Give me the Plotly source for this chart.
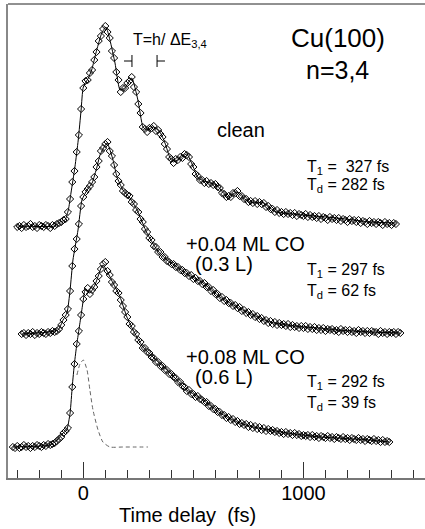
import plotly.graph_objects as go

# ---------------- data ----------------
# measured points, 10 fs delay grids (fs)
t_clean = list(range(-300, 1421, 10))
t_co04 = list(range(-280, 1441, 10))
t_co08 = list(range(-320, 1391, 10))

# clean Cu(100) (arb. units, offset as in the figure); one row per 100 fs
y_clean = [
    251, 252, 250, 253, 251, 252, 254, 251, 252, 250,   # -300
    253, 252, 251, 253, 252, 250, 253, 252, 254, 255,   # -200
    256, 258, 259, 266, 279, 296, 307, 326, 343, 369,   # -100
    390, 397, 398, 405, 408, 418, 426, 437, 442, 449,   # 0
    452, 446, 440, 427, 420, 406, 398, 386, 390, 390,   # 100
    395, 397, 401, 391, 386, 374, 365, 351, 349, 346,   # 200
    350, 350, 352, 347, 348, 344, 341, 334, 329, 321,   # 300
    319, 315, 319, 318, 321, 320, 324, 323, 321, 314,   # 400
    311, 304, 302, 298, 298, 295, 297, 294, 295, 293,   # 500
    294, 291, 290, 285, 284, 281, 282, 281, 285, 285,   # 600
    287, 282, 282, 279, 279, 276, 277, 275, 277, 274,   # 700
    276, 274, 275, 271, 272, 269, 269, 266, 268, 265,   # 800
    266, 264, 266, 264, 265, 263, 265, 262, 264, 263,   # 900
    262, 264, 261, 263, 261, 262, 260, 262, 259, 261,   # 1000
    260, 258, 261, 259, 260, 258, 260, 257, 259, 258,   # 1100
    256, 259, 257, 258, 256, 258, 255, 257, 256, 254,   # 1200
    257, 255, 256, 254, 256, 255, 253, 256, 254, 255,   # 1300
    253, 255, 254]                                      # 1400

# +0.04 ML CO
y_co04 = [
    144, 145, 143, 145, 144, 146, 143, 145,             # -280
    144, 146, 145, 144, 146, 145, 147, 146, 147, 149,   # -200
    153, 158, 163, 169, 187, 212, 229, 239, 254, 272,   # -100
    281, 286, 289, 292, 296, 301, 311, 317, 327, 330,   # 0
    334, 336, 327, 322, 313, 304, 297, 293, 287, 285,   # 100
    283, 282, 276, 274, 268, 266, 259, 256, 249, 246,   # 200
    240, 238, 232, 231, 226, 226, 221, 221, 217, 216,   # 300
    214, 214, 211, 211, 208, 208, 205, 205, 202, 203,   # 400
    199, 200, 197, 197, 194, 195, 191, 191, 187, 188,   # 500
    184, 184, 180, 181, 177, 178, 175, 175, 172, 173,   # 600
    170, 171, 167, 168, 165, 166, 163, 164, 161, 162,   # 700
    159, 160, 157, 158, 155, 157, 154, 156, 153, 155,   # 800
    153, 154, 152, 154, 151, 153, 151, 152, 150, 152,   # 900
    150, 152, 149, 151, 149, 151, 148, 150, 148, 150,   # 1000
    147, 149, 148, 149, 147, 148, 146, 149, 147, 148,   # 1100
    146, 148, 146, 147, 145, 148, 146, 147, 145, 147,   # 1200
    145, 147, 146, 146, 144, 147, 145, 146, 144, 146,   # 1300
    145, 146, 144, 146, 145]                            # 1400

# +0.08 ML CO
y_co08 = [
    31, 30,                                             # -320
    32, 30, 31, 33, 31, 32, 30, 32, 31, 33,             # -300
    32, 31, 33, 32, 34, 33, 34, 35, 37, 39,             # -200
    41, 45, 47, 50, 65, 91, 114, 134, 147, 163,         # -100
    179, 186, 190, 184, 188, 191, 197, 202, 209, 214,   # 0
    216, 207, 203, 196, 193, 187, 185, 178, 172, 166,   # 100
    161, 154, 152, 146, 144, 138, 136, 130, 130, 126,   # 200
    125, 121, 120, 116, 116, 112, 112, 108, 108, 104,   # 300
    104, 101, 100, 96, 96, 92, 91, 87, 88, 84,          # 400
    84, 81, 82, 79, 78, 76, 76, 72, 72, 69,             # 500
    69, 66, 66, 63, 63, 60, 61, 58, 59, 56,             # 600
    57, 54, 55, 53, 54, 51, 53, 50, 52, 49,             # 700
    51, 48, 50, 47, 49, 47, 48, 46, 47, 45,             # 800
    46, 44, 46, 44, 45, 43, 45, 43, 44, 42,             # 900
    43, 42, 43, 41, 43, 41, 42, 40, 42, 41,             # 1000
    40, 42, 40, 41, 39, 41, 40, 39, 41, 39,             # 1100
    40, 38, 40, 39, 38, 40, 38, 39, 37, 39,             # 1200
    38, 37, 39, 37, 38, 36, 38, 36, 37, 36]             # 1300

# fitted curves (solid lines)
tf_clean = [-300, -129, -106, -83, -68, -56, -38, -23, -10, 0, 23, 38, 61, 84, 103, 121,
            144, 167, 189, 220, 248, 271, 288, 318, 348, 371, 394, 409, 447, 470, 492,
            522, 560, 606, 636, 658, 697, 727, 757, 817, 848, 878, 998, 1152, 1302, 1420]
yf_clean = [252, 252, 256, 258, 268, 285, 311, 338, 368, 391, 400, 408, 428, 445, 451, 438,
            415, 388, 390, 400, 378, 351, 348, 351, 346, 335, 320, 316, 321, 324, 315,
            300, 296, 293, 285, 281, 286, 280, 276, 275, 270, 266, 263, 260, 256, 255]
tf_co04 = [-280, -115, -92, -74, -60, -47, -24, -6, 17, 40, 62, 76, 108, 135, 153, 180,
           212, 244, 289, 335, 380, 426, 471, 544, 621, 698, 771, 848, 925, 998, 1075,
           1152, 1225, 1302, 1440]
yf_co04 = [144, 148, 158, 165, 188, 218, 248, 278, 288, 295, 311, 323, 335, 318, 301, 288,
           280, 268, 245, 228, 218, 211, 204, 195, 181, 171, 163, 156, 153, 151, 150,
           148, 147, 146, 145]
tf_co08 = [-320, -151, -119, -92, -75, -60, -50, -40, -30, -20, -10, 0, 8, 30, 53, 89,
           135, 167, 198, 226, 271, 394, 471, 544, 621, 698, 771, 848, 925, 998, 1075,
           1152, 1225, 1302, 1390]
yf_co08 = [31, 33, 38, 45, 48, 65, 92, 115, 133, 148, 163, 178, 188, 185, 193, 213,
           195, 181, 161, 148, 131, 105, 88, 78, 65, 56, 51, 48, 45, 43, 41,
           40, 39, 38, 36]

# pump-probe cross correlation (dashed)
t_cc = [-29, -15, 0, 17, 30, 44, 67, 89, 121, 180, 240, 294]
y_cc = [103, 114, 118, 108, 88, 68, 48, 36, 31, 31, 31, 31]

assert len(t_clean) == len(y_clean), (len(t_clean), len(y_clean))
assert len(t_co04) == len(y_co04), (len(t_co04), len(y_co04))
assert len(t_co08) == len(y_co08), (len(t_co08), len(y_co08))

x_tick_vals = [0, 1000]
x_tick_text = ["0", "1000"]

FONT = "Liberation Sans, Arial, Helvetica, sans-serif"

fig = go.Figure()

for t, y in [(t_clean, y_clean), (t_co04, y_co04), (t_co08, y_co08)]:
    fig.add_trace(go.Scatter(
        x=t, y=y, mode="markers",
        marker=dict(symbol="diamond-open", size=5.5, color="black",
                    line=dict(width=1, color="black")),
        showlegend=False, hoverinfo="skip"))

for t, y in [(tf_clean, yf_clean), (tf_co04, yf_co04), (tf_co08, yf_co08)]:
    fig.add_trace(go.Scatter(
        x=t, y=y, mode="lines",
        line=dict(color="black", width=1, shape="spline", smoothing=0.5),
        showlegend=False, hoverinfo="skip"))

fig.add_trace(go.Scatter(
    x=t_cc, y=y_cc, mode="lines",
    line=dict(color="#666666", width=1, dash="4px,3px", shape="spline", smoothing=0.6),
    showlegend=False, hoverinfo="skip"))

def txt(x, y, s, size, xanchor="center"):
    fig.add_annotation(x=x, y=y, xref="x", yref="y", text=s, showarrow=False,
                       xanchor=xanchor, yanchor="middle",
                       font=dict(family=FONT, size=size, color="black"))

txt(217, 438, "T=h/ ΔE<sub>3,4</sub>", 16, "left")
txt(1155, 440, "Cu(100)", 26)
txt(1155, 408, "n=3,4", 25)
txt(717, 348, "clean", 20)
txt(1006, 311, "T<sub>1</sub> =\u00a0\u00a0327 fs", 16, "left")
txt(1006, 293, "T<sub>d</sub> = 282 fs", 16, "left")
txt(735, 234, "+0.04 ML CO", 20)
txt(639, 214, "(0.3 L)", 20)
txt(1006, 208, "T<sub>1</sub> = 297 fs", 16, "left")
txt(1006, 187, "T<sub>d</sub> = 62 fs", 16, "left")
txt(735, 121, "+0.08 ML CO", 20)
txt(639, 101, "(0.6 L)", 20)
txt(1006, 96, "T<sub>1</sub> = 292 fs", 16, "left")
txt(1006, 75, "T<sub>d</sub> = 39 fs", 16, "left")

# axis title
fig.add_annotation(x=475, y=-37 / 474, xref="x", yref="paper",
                   text="Time delay\u00a0\u00a0(fs)", showarrow=False,
                   xanchor="center", yanchor="middle",
                   font=dict(family=FONT, size=20, color="black"))

# period markers  ⊣   ⊢
L = dict(color="black", width=1)
fig.add_shape(type="line", x0=185, x1=221, y0=417, y1=417, xref="x", yref="y", line=L)
fig.add_shape(type="line", x0=221, x1=221, y0=411, y1=423, xref="x", yref="y", line=L)
fig.add_shape(type="line", x0=335, x1=371, y0=417, y1=417, xref="x", yref="y", line=L)
fig.add_shape(type="line", x0=335, x1=335, y0=411, y1=423, xref="x", yref="y", line=L)
# top frame line
fig.add_shape(type="line", x0=0, x1=1, y0=1, y1=1, xref="paper", yref="paper",
              line=dict(color="#222222", width=1))

fig.update_layout(
    width=425, height=529,
    margin=dict(l=8, r=0, t=4, b=51),
    paper_bgcolor="white", plot_bgcolor="white",
    font=dict(family=FONT, color="black"),
    xaxis=dict(range=[-342, 1552], showgrid=False, zeroline=False,
               showline=True, linecolor="#777777", linewidth=1.5,
               ticks="inside", ticklen=16, tickwidth=1, tickcolor="#333333",
               tickvals=x_tick_vals, ticktext=x_tick_text,
               ticklabelstandoff=-4,
               tickfont=dict(family=FONT, size=20, color="black"),
               minor=dict(dtick=100, tick0=0, ticks="inside", ticklen=8,
                          tickwidth=1, tickcolor="#333333", showgrid=False)),
    yaxis=dict(range=[0, 474], showgrid=False, zeroline=False,
               showline=True, linecolor="#888888", linewidth=2,
               showticklabels=False, ticks=""),
)

fig.write_html("out.html",
               config={"displayModeBar": False, "staticPlot": True},
               post_script="document.body.style.margin='0px';"
                           "document.body.style.overflow='hidden';")
